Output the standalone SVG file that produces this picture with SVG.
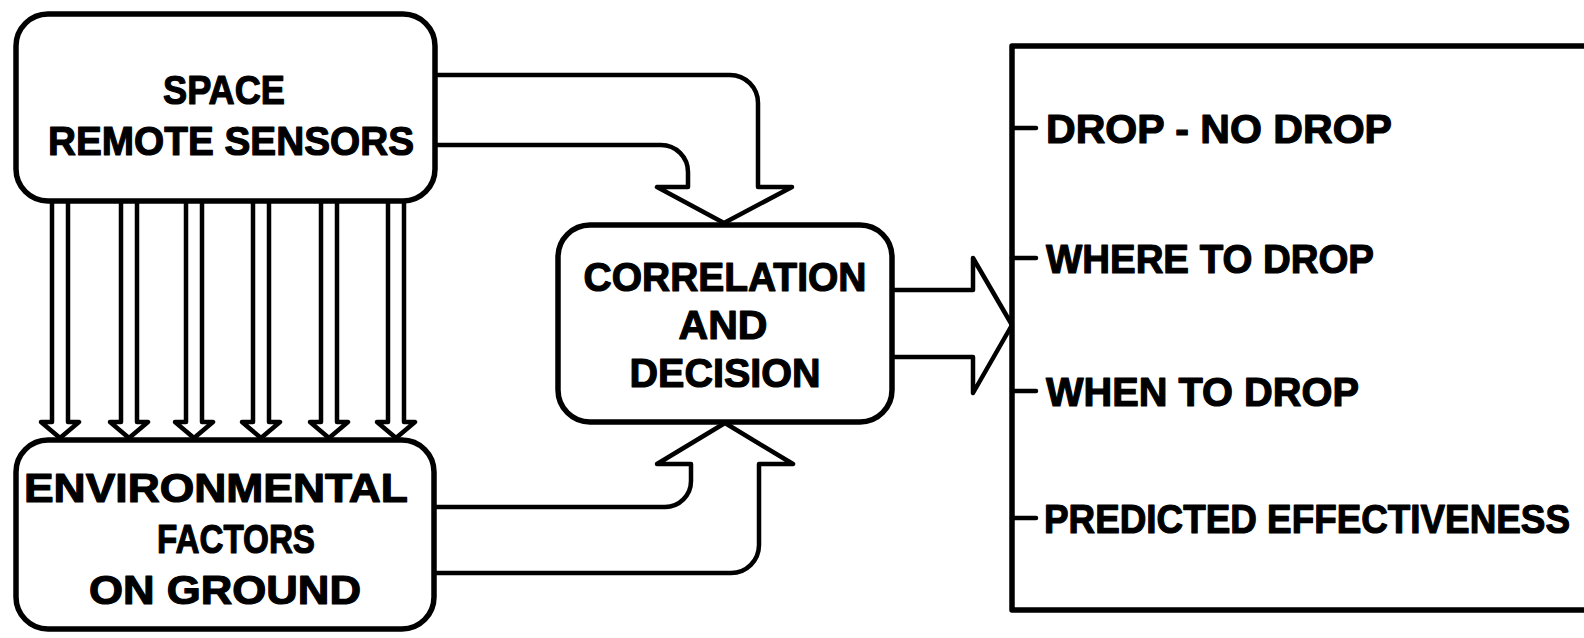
<svg xmlns="http://www.w3.org/2000/svg" width="1584" height="638" viewBox="0 0 1584 638">
<style>
.box{fill:#fff;stroke:#000;stroke-width:5.5;stroke-linejoin:round}
.ln{fill:none;stroke:#000;stroke-width:4.5;stroke-linejoin:round;stroke-linecap:round}
.t{font-family:"Liberation Sans",Arial,sans-serif;font-weight:bold;font-size:41px;fill:#000;stroke:#000;stroke-width:1.2;stroke-linejoin:round;text-anchor:middle}
.l{font-family:"Liberation Sans",Arial,sans-serif;font-weight:bold;font-size:41px;fill:#000;stroke:#000;stroke-width:1.2;stroke-linejoin:round}
</style>
<rect width="1584" height="638" fill="#fff"/>
<g id="connectors">
  <path class="ln" d="M436,75 H730 A28,28 0 0 1 758,103 V187 H792 L724,223 L657,187 H688 V172 A27,27 0 0 0 661,145 H436"/>
  <path class="ln" d="M434,507 H665 A26,26 0 0 0 691,481 V464 H657 L725,423 L793,464 H759 V545 A28,28 0 0 1 731,573 H434"/>
  <path class="ln" d="M892,290 H973 V258 L1012,325 L973,393 V357 H892"/>
  <path class="ln" d="M52,202 V422 H41 L60,438 L79,422 H68 V202"/>
  <path class="ln" d="M121,202 V422 H110 L129,438 L148,422 H137 V202"/>
  <path class="ln" d="M186,202 V422 H175 L194,438 L213,422 H202 V202"/>
  <path class="ln" d="M253,202 V422 H242 L261,438 L280,422 H269 V202"/>
  <path class="ln" d="M321,202 V422 H310 L329,438 L348,422 H337 V202"/>
  <path class="ln" d="M388,202 V422 H377 L396,438 L415,422 H404 V202"/>
</g>
<g id="space-remote-sensors">
  <rect class="box" x="16" y="14" width="419" height="187" rx="32"/>
  <text class="t" x="224" y="104" textLength="122" lengthAdjust="spacingAndGlyphs">SPACE</text>
  <text class="t" x="231" y="155" textLength="366" lengthAdjust="spacingAndGlyphs">REMOTE SENSORS</text>
</g>
<g id="environmental-factors">
  <rect class="box" x="16" y="440" width="418" height="189" rx="32"/>
  <text class="t" x="216" y="502" textLength="384" lengthAdjust="spacingAndGlyphs">ENVIRONMENTAL</text>
  <text class="t" x="236" y="553" textLength="158" lengthAdjust="spacingAndGlyphs">FACTORS</text>
  <text class="t" x="225" y="604" textLength="272" lengthAdjust="spacingAndGlyphs">ON GROUND</text>
</g>
<g id="correlation-decision">
  <rect class="box" x="558" y="225" width="334" height="197" rx="32"/>
  <text class="t" x="725" y="291" textLength="283" lengthAdjust="spacingAndGlyphs">CORRELATION</text>
  <text class="t" x="723" y="339" textLength="89" lengthAdjust="spacingAndGlyphs">AND</text>
  <text class="t" x="725" y="387" textLength="191" lengthAdjust="spacingAndGlyphs">DECISION</text>
</g>
<g id="outputs">
  <rect class="box" x="1012" y="46" width="700" height="564"/>
  <path class="ln" d="M1012,128 H1036 M1012,258 H1036 M1012,391 H1036 M1012,518 H1036"/>
  <text class="l" x="1046" y="143" textLength="346" lengthAdjust="spacingAndGlyphs">DROP - NO DROP</text>
  <text class="l" x="1046" y="273" textLength="328" lengthAdjust="spacingAndGlyphs">WHERE TO DROP</text>
  <text class="l" x="1046" y="406" textLength="313" lengthAdjust="spacingAndGlyphs">WHEN TO DROP</text>
  <text class="l" x="1044" y="533" textLength="526" lengthAdjust="spacingAndGlyphs">PREDICTED EFFECTIVENESS</text>
</g>
</svg>
